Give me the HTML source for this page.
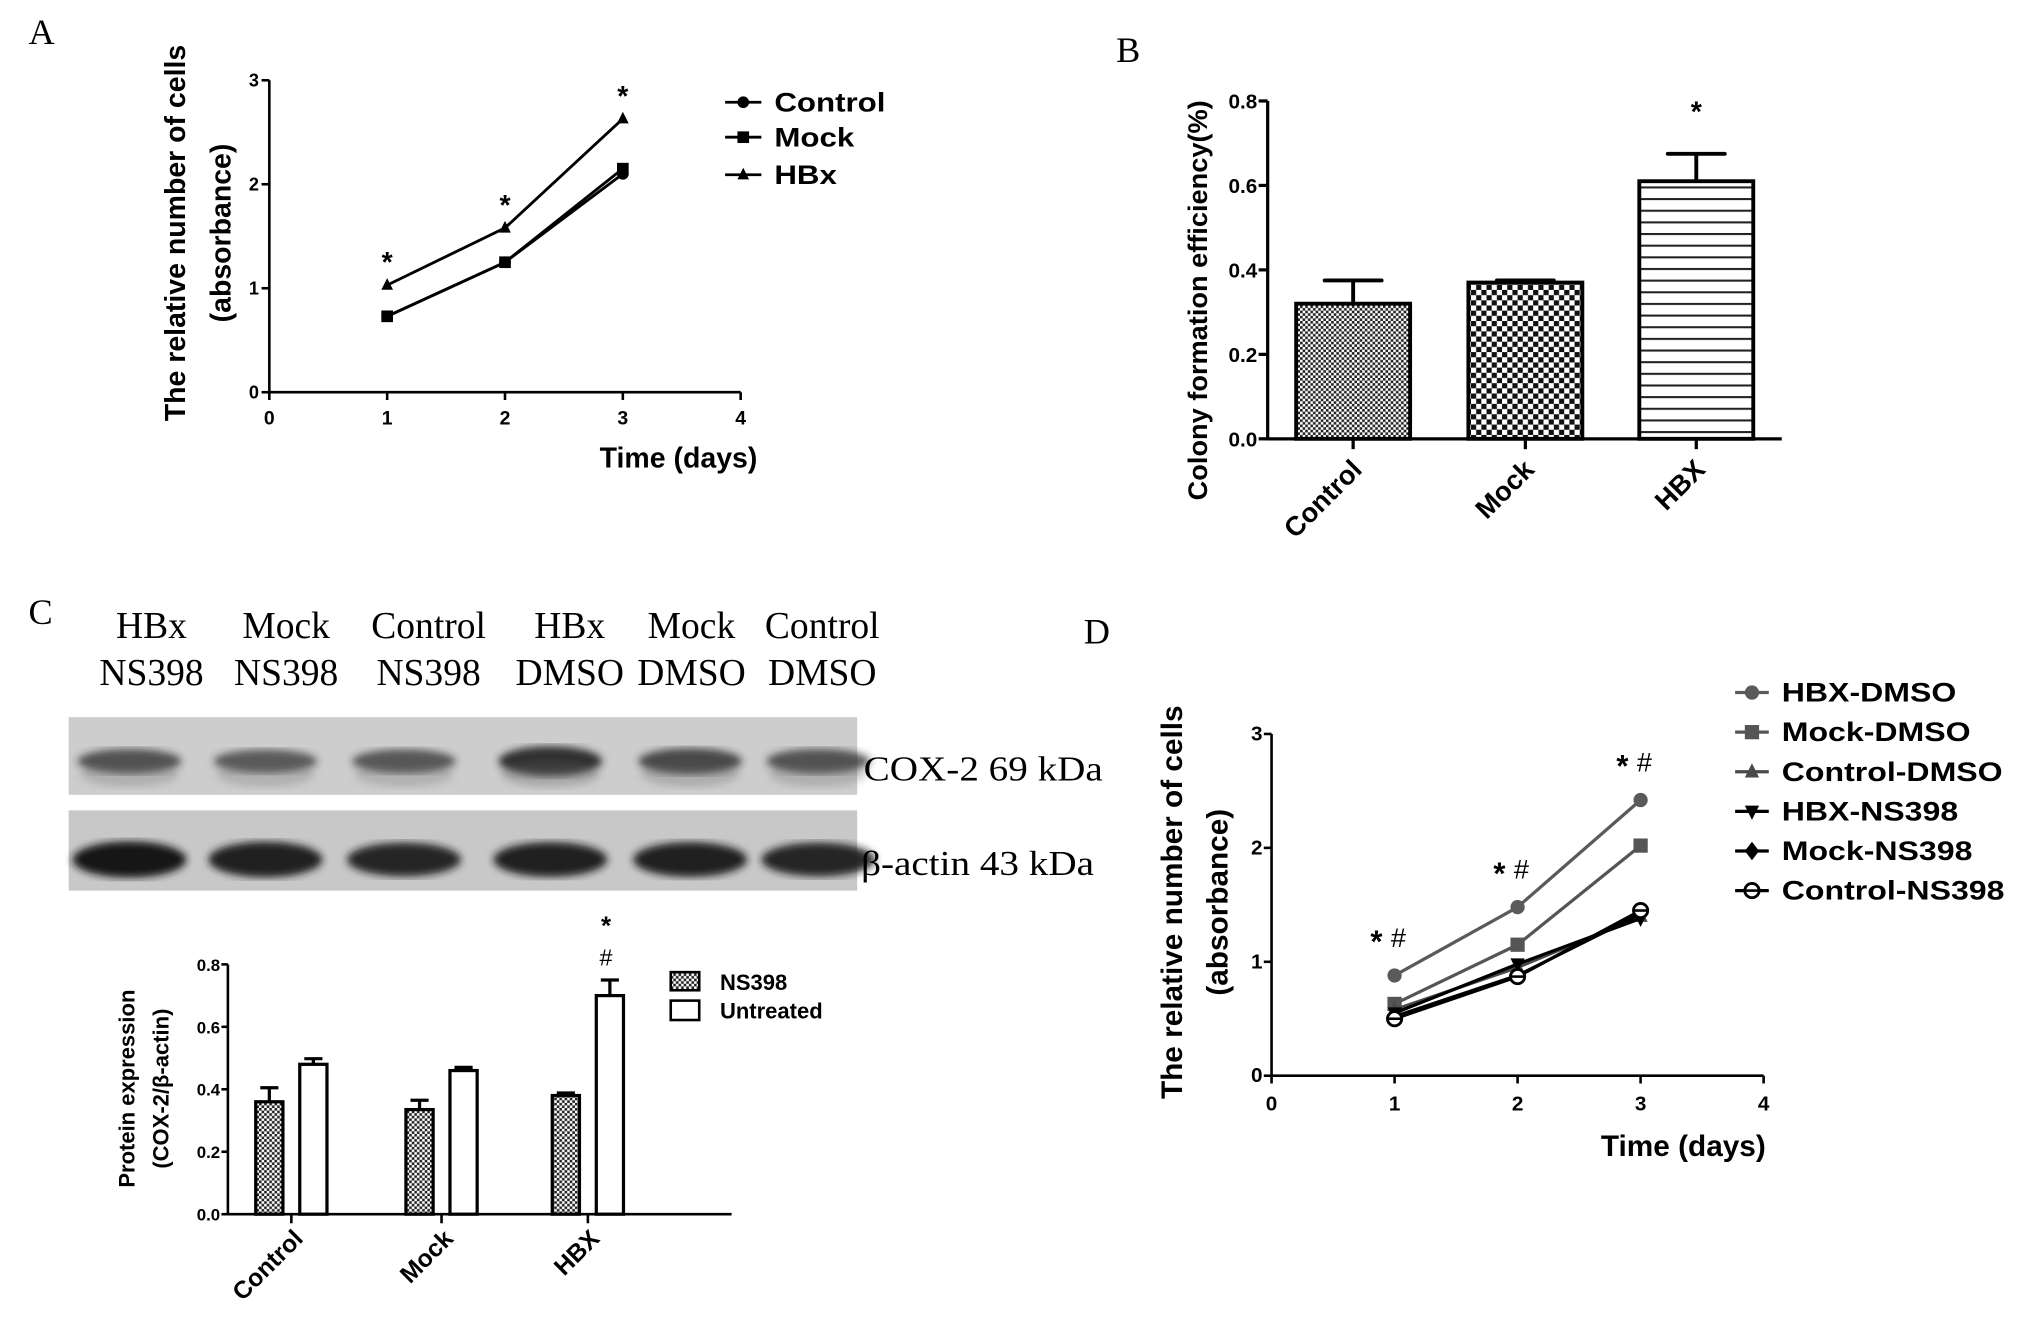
<!DOCTYPE html>
<html><head><meta charset="utf-8"><style>
html,body{margin:0;padding:0;background:#fff;}
svg{display:block;}
text{font-family:"Liberation Sans",sans-serif;}
.b{font-weight:bold;}
.serif{font-family:"Liberation Serif",serif;}
</style></head><body>
<svg id="fig" xmlns="http://www.w3.org/2000/svg" width="2020" height="1332" viewBox="0 0 1560 1029" preserveAspectRatio="none">
<defs>
<pattern id="fine" width="4" height="4" patternUnits="userSpaceOnUse"><rect width="4" height="4" fill="#fff"/><rect width="2" height="2" fill="#222"/><rect x="2" y="2" width="2" height="2" fill="#222"/></pattern>
<pattern id="coarse" width="8" height="8" patternUnits="userSpaceOnUse"><rect width="8" height="8" fill="#fff"/><rect width="4" height="4" fill="#111"/><rect x="4" y="4" width="4" height="4" fill="#111"/></pattern>
<pattern id="hlines" width="8" height="9" patternUnits="userSpaceOnUse"><rect width="8" height="9" fill="#fff"/><rect y="0" width="8" height="1.6" fill="#222"/></pattern>
<filter id="blur"><feGaussianBlur stdDeviation="3"/></filter>
</defs>
<text x="22" y="34" class="serif" font-size="28">A</text>
<text x="862" y="48" class="serif" font-size="28">B</text>
<text x="22" y="482" class="serif" font-size="28">C</text>
<text x="837" y="497" class="serif" font-size="28">D</text>
<g id="gA"></g>
<g id="gB"></g>
<g id="gC"></g>
<g id="gC2"></g>
<g id="gD"></g>
</svg>
<script>
// ---- data ----
const daysA = [1, 2, 3];
const aControl = [0.73, 1.25, 2.10];
const aMock = [0.73, 1.25, 2.15];
const aHBx = [1.03, 1.58, 2.63];
const aTicksX = [0, 1, 2, 3, 4];
const aTicksY = [0, 1, 2, 3];

const bCats = ["Control", "Mock", "HBX"];
const bVals = [0.32, 0.37, 0.61];
const bErr = [0.055, 0.005, 0.065];
const bTicks = ["0.0", "0.2", "0.4", "0.6", "0.8"];

const blotLanes1 = ["HBx", "Mock", "Control", "HBx", "Mock", "Control"];
const blotLanes2 = ["NS398", "NS398", "NS398", "DMSO", "DMSO", "DMSO"];
const coxIntensity = [0.75, 0.7, 0.72, 0.95, 0.8, 0.75];
const actinIntensity = [1.0, 0.98, 0.92, 0.95, 0.95, 0.92];

const cCats = ["Control", "Mock", "HBX"];
const cNS398 = [0.36, 0.335, 0.38];
const cNS398Err = [0.045, 0.03, 0.008];
const cUntreated = [0.48, 0.46, 0.70];
const cUntreatedErr = [0.018, 0.01, 0.05];
const cTicks = ["0.0", "0.2", "0.4", "0.6", "0.8"];

const daysD = [1, 2, 3];
const dHbxDmso = [0.88, 1.48, 2.42];
const dMockDmso = [0.63, 1.15, 2.02];
const dCtrlDmso = [0.58, 0.95, 1.40];
const dHbxNs = [0.55, 0.98, 1.38];
const dMockNs = [0.52, 0.88, 1.42];
const dCtrlNs = [0.50, 0.87, 1.45];
const dNames = ["HBX-DMSO", "Mock-DMSO", "Control-DMSO", "HBX-NS398", "Mock-NS398", "Control-NS398"];

const NS = "http://www.w3.org/2000/svg";
function mk(parent, tag, attrs, txt) {
  const e = document.createElementNS(NS, tag);
  for (const k in attrs) e.setAttribute(k, attrs[k]);
  if (txt !== undefined) e.textContent = txt;
  parent.appendChild(e);
  return e;
}
function stretch(e, f) {
  const w = e.getComputedTextLength();
  if (w > 0) { e.setAttribute("textLength", w * f); e.setAttribute("lengthAdjust", "spacingAndGlyphs"); }
}
function marker(g, shape, x, y, color, r) {
  let e;
  if (shape === "circle") e = mk(g, "circle", {cx: x, cy: y, r: r, fill: color});
  else if (shape === "ocircle") { e = mk(g, "circle", {cx: x, cy: y, r: r, fill: "#fff", stroke: color, "stroke-width": 2.2}); mk(g,"line",{x1:x-r,y1:y,x2:x+r,y2:y,stroke:color,"stroke-width":2}); }
  else if (shape === "square") e = mk(g, "rect", {x: x - r, y: y - r, width: 2 * r, height: 2 * r, fill: color});
  else if (shape === "tri") e = mk(g, "polygon", {points: `${x},${y - r * 1.2} ${x - r},${y + r * 0.8} ${x + r},${y + r * 0.8}`, fill: color});
  else if (shape === "dtri") e = mk(g, "polygon", {points: `${x},${y + r * 1.2} ${x - r},${y - r * 0.8} ${x + r},${y - r * 0.8}`, fill: color});
  else if (shape === "diamond") e = mk(g, "polygon", {points: `${x},${y - r * 1.3} ${x + r},${y} ${x},${y + r * 1.3} ${x - r},${y}`, fill: color});
  return e;
}

// ---- Panel A ----
(function () {
  const g = document.getElementById("gA");
  const x0 = 208, xs = (572 - 208) / 4, y0 = 303, ys = (303 - 62) / 3;
  const X = v => x0 + v * xs, Y = v => y0 - v * ys;
  let e = mk(g, "path", {d: `M${X(0)},${Y(3)} L${X(0)},${Y(0)} L${X(4)},${Y(0)}`, fill: "none", stroke: "#000", "stroke-width": 2});
  
  
  aTicksY.forEach(t => {
    mk(g, "line", {x1: X(0) - 6, y1: Y(t), x2: X(0), y2: Y(t), stroke: "#000", "stroke-width": 2});
    e = mk(g, "text", {x: X(0) - 8, y: Y(t) + 5, "text-anchor": "end", "font-size": 14, class: "b"}, t);
    
    
  });
  aTicksX.forEach(t => {
    mk(g, "line", {x1: X(t), y1: Y(0), x2: X(t), y2: Y(0) + 6, stroke: "#000", "stroke-width": 2});
    e = mk(g, "text", {x: X(t), y: Y(0) + 25, "text-anchor": "middle", "font-size": 15, class: "b"}, t);
    
    
  });
  const series = [[aControl, "circle"], [aMock, "square"], [aHBx, "tri"]];
  const names = ["Control", "Mock", "HBx"];
  series.forEach(([vals, sh], i) => {
    const sg = mk(g, "g", {});
    
    
    mk(sg, "polyline", {points: daysA.map((d, j) => `${X(d)},${Y(vals[j])}`).join(" "), fill: "none", stroke: "#000", "stroke-width": 2.2});
    daysA.forEach((d, j) => marker(sg, sh, X(d), Y(vals[j]), "#000", 4.5));
    const ly = [79, 106, 135][i];
    mk(g, "line", {x1: 560, y1: ly, x2: 588, y2: ly, stroke: "#000", "stroke-width": 2.2});
    marker(g, sh, 574, ly, "#000", 4.5);
    e = mk(g, "text", {x: 598, y: ly + 7, "font-size": 21, class: "b"}, names[i]);
    
    
    stretch(e, 1.15);
  });
  daysA.forEach((d, j) => {
    e = mk(g, "text", {x: X(d), y: Y(aHBx[j]) - 10, "text-anchor": "middle", "font-size": 22, class: "b"}, "*");
    
    
  });
  e = mk(g, "text", {transform: "translate(143,180) rotate(-90)", "text-anchor": "middle", "font-size": 22, class: "b"}, "The relative number of cells");
  
  
  e = mk(g, "text", {transform: "translate(178,180) rotate(-90)", "text-anchor": "middle", "font-size": 22, class: "b"}, "(absorbance)");
  
  
  e = mk(g, "text", {x: 524, y: 361, "text-anchor": "middle", "font-size": 22, class: "b"}, "Time (days)");
  
  
})();

// ---- Panel B ----
(function () {
  const g = document.getElementById("gB");
  const ax = 979, y0 = 339, ys = (339 - 78) / 0.8, xEnd = 1376;
  const Y = v => y0 - v * ys;
  const centers = [1045, 1178, 1310], bw = 88;
  const fills = ["url(#fine)", "url(#coarse)", "url(#hlines)"];
  bCats.forEach((c, i) => {
    let e = mk(g, "rect", {x: centers[i] - bw / 2, y: Y(bVals[i]), width: bw, height: y0 - Y(bVals[i]), fill: fills[i], stroke: "#000", "stroke-width": 3});
    
    
    mk(g, "line", {x1: centers[i], y1: Y(bVals[i]), x2: centers[i], y2: Y(bVals[i] + bErr[i]), stroke: "#000", "stroke-width": 3});
    mk(g, "line", {x1: centers[i] - 22, y1: Y(bVals[i] + bErr[i]), x2: centers[i] + 22, y2: Y(bVals[i] + bErr[i]), stroke: "#000", "stroke-width": 3, "stroke-linecap": "round"});
    mk(g, "line", {x1: centers[i], y1: y0, x2: centers[i], y2: y0 + 8, stroke: "#000", "stroke-width": 2.5});
    e = mk(g, "text", {transform: `translate(${centers[i] + 8},${y0 + 25}) rotate(-45)`, "text-anchor": "end", "font-size": 21, class: "b"}, c);
    
    
  });
  mk(g, "path", {d: `M${ax},${Y(0.8)} L${ax},${y0} L${xEnd},${y0}`, fill: "none", stroke: "#000", "stroke-width": 2.5});
  bTicks.forEach((t, i) => {
    const v = i * 0.2;
    mk(g, "line", {x1: ax - 7, y1: Y(v), x2: ax, y2: Y(v), stroke: "#000", "stroke-width": 2.5});
    let e = mk(g, "text", {x: ax - 8, y: Y(v) + 6, "text-anchor": "end", "font-size": 16, class: "b"}, t);
    
    
  });
  let e = mk(g, "text", {x: centers[2], y: Y(0.8) + 16, "text-anchor": "middle", "font-size": 22, class: "b"}, "*");
  
  
  e = mk(g, "text", {transform: "translate(932,232) rotate(-90)", "text-anchor": "middle", "font-size": 21, class: "b"}, "Colony formation efficiency(%)");
  
  
})();

// ---- Panel C blot ----
(function () {
  const g = document.getElementById("gC");
  const cols = [117, 221, 331, 440, 534, 635];
  blotLanes1.forEach((l, i) => {
    let e = mk(g, "text", {x: cols[i], y: 493, "text-anchor": "middle", "font-size": 29, class: "serif"}, l);
    
    
    e = mk(g, "text", {x: cols[i], y: 529, "text-anchor": "middle", "font-size": 29, class: "serif"}, blotLanes2[i]);
    
    
  });
  let e = mk(g, "rect", {x: 53, y: 554, width: 609, height: 60, fill: "#cdcdcd"});
  
  
  e = mk(g, "rect", {x: 53, y: 626, width: 609, height: 62, fill: "#c8c8c8"});
  
  
  const bands = [100, 205, 312, 425, 533, 632];
  bands.forEach((x, i) => {
    const a = coxIntensity[i];
    mk(g, "ellipse", {cx: x, cy: 588, rx: 40, ry: 10 * a + 2, fill: `rgba(40,40,40,${a})`, filter: "url(#blur)"});
    mk(g, "ellipse", {cx: x, cy: 598, rx: 38, ry: 10, fill: `rgba(90,90,90,${a * 0.35})`, filter: "url(#blur)"});
    const b = actinIntensity[i];
    mk(g, "ellipse", {cx: x, cy: 664, rx: 44, ry: 12 * b + 2, fill: `rgba(25,25,25,${b})`, filter: "url(#blur)"});
  });
  e = mk(g, "text", {x: 667, y: 603, "font-size": 27, class: "serif"}, "COX-2  69 kDa");
  
  
  stretch(e, 1.12);
  e = mk(g, "text", {x: 665, y: 676, "font-size": 27, class: "serif"}, "β-actin  43 kDa");
  
  
  stretch(e, 1.12);
})();

// ---- Panel C chart ----
(function () {
  const g = document.getElementById("gC2");
  const ax = 176, y0 = 938, ys = (938 - 745) / 0.8, xEnd = 565;
  const Y = v => y0 - v * ys;
  const groupC = [225, 341, 454], bw = 21;
  cCats.forEach((c, i) => {
    const xa = groupC[i] - 17, xb = groupC[i] + 17;
    [[xa, cNS398[i], cNS398Err[i], "url(#fine)", "ns398"], [xb, cUntreated[i], cUntreatedErr[i], "#fff", "untreated"]].forEach(([x, v, er, f, n]) => {
      let e = mk(g, "rect", {x: x - bw / 2, y: Y(v), width: bw, height: y0 - Y(v), fill: f, stroke: "#000", "stroke-width": 2.5});
      
      
      mk(g, "line", {x1: x, y1: Y(v), x2: x, y2: Y(v + er), stroke: "#000", "stroke-width": 2.5});
      mk(g, "line", {x1: x - 7, y1: Y(v + er), x2: x + 7, y2: Y(v + er), stroke: "#000", "stroke-width": 2.5});
    });
    mk(g, "line", {x1: groupC[i], y1: y0, x2: groupC[i], y2: y0 + 7, stroke: "#000", "stroke-width": 2});
    let e = mk(g, "text", {transform: `translate(${groupC[i] + 10},${y0 + 20}) rotate(-45)`, "text-anchor": "end", "font-size": 19, class: "b"}, c);
    
    
  });
  mk(g, "path", {d: `M${ax},${Y(0.8)} L${ax},${y0} L${xEnd},${y0}`, fill: "none", stroke: "#000", "stroke-width": 2});
  cTicks.forEach((t, i) => {
    const v = i * 0.2;
    mk(g, "line", {x1: ax - 5, y1: Y(v), x2: ax, y2: Y(v), stroke: "#000", "stroke-width": 2});
    let e = mk(g, "text", {x: ax - 6, y: Y(v) + 5, "text-anchor": "end", "font-size": 13, class: "b"}, t);
    
    
  });
  let e = mk(g, "text", {x: 468, y: 722, "text-anchor": "middle", "font-size": 20, class: "b"}, "*");
  
  
  e = mk(g, "text", {x: 468, y: 746, "text-anchor": "middle", "font-size": 18}, "#");
  
  
  mk(g, "rect", {x: 518, y: 751, width: 22, height: 14, fill: "url(#fine)", stroke: "#000", "stroke-width": 2});
  e = mk(g, "text", {x: 556, y: 765, "font-size": 17, class: "b"}, "NS398");
  
  
  mk(g, "rect", {x: 518, y: 773, width: 22, height: 15, fill: "#fff", stroke: "#000", "stroke-width": 2});
  e = mk(g, "text", {x: 556, y: 787, "font-size": 17, class: "b"}, "Untreated");
  
  
  e = mk(g, "text", {transform: "translate(104,841) rotate(-90)", "text-anchor": "middle", "font-size": 17, class: "b"}, "Protein expression");
  
  
  e = mk(g, "text", {transform: "translate(130,841) rotate(-90)", "text-anchor": "middle", "font-size": 17, class: "b"}, "(COX-2/β-actin)");
  
  
})();

// ---- Panel D ----
(function () {
  const g = document.getElementById("gD");
  const x0 = 982, xs = (1362 - 982) / 4, y0 = 831, ys = (831 - 567) / 3;
  const X = v => x0 + v * xs, Y = v => y0 - v * ys;
  mk(g, "path", {d: `M${X(0)},${Y(3)} L${X(0)},${Y(0)} L${X(4)},${Y(0)}`, fill: "none", stroke: "#000", "stroke-width": 2});
  [0, 1, 2, 3].forEach(t => {
    mk(g, "line", {x1: X(0) - 6, y1: Y(t), x2: X(0), y2: Y(t), stroke: "#000", "stroke-width": 2});
    let e = mk(g, "text", {x: X(0) - 7, y: Y(t) + 5, "text-anchor": "end", "font-size": 16, class: "b"}, t);
    
    
  });
  [0, 1, 2, 3, 4].forEach(t => {
    mk(g, "line", {x1: X(t), y1: Y(0), x2: X(t), y2: Y(0) + 6, stroke: "#000", "stroke-width": 2});
    let e = mk(g, "text", {x: X(t), y: Y(0) + 27, "text-anchor": "middle", "font-size": 16, class: "b"}, t);
    
    
  });
  const series = [
    [dHbxDmso, "circle", "#5a5a5a"], [dMockDmso, "square", "#555"], [dCtrlDmso, "tri", "#4a4a4a"],
    [dHbxNs, "dtri", "#000"], [dMockNs, "diamond", "#000"], [dCtrlNs, "ocircle", "#000"]];
  series.forEach(([vals, sh, col], i) => {
    const sg = mk(g, "g", {});
    
    
    mk(sg, "polyline", {points: daysD.map((d, j) => `${X(d)},${Y(vals[j])}`).join(" "), fill: "none", stroke: col, "stroke-width": 2.5});
    daysD.forEach((d, j) => marker(sg, sh, X(d), Y(vals[j]), col, 5.5));
    const ly = 535 + i * 30.6;
    mk(g, "line", {x1: 1340, y1: ly, x2: 1366, y2: ly, stroke: col, "stroke-width": 2.5});
    marker(g, sh, 1353, ly, col, 5.5);
    let e = mk(g, "text", {x: 1376, y: ly + 7, "font-size": 21, class: "b"}, dNames[i]);
    
    
    stretch(e, 1.18);
  });
  daysD.forEach((d, j) => {
    let e = mk(g, "text", {x: X(d) - 14, y: Y(dHbxDmso[j]) - 18, "text-anchor": "middle", "font-size": 24, class: "b"}, "*");
    
    
    e = mk(g, "text", {x: X(d) + 3, y: Y(dHbxDmso[j]) - 22, "text-anchor": "middle", "font-size": 21}, "#");
    
    
  });
  let e = mk(g, "text", {transform: "translate(913,697) rotate(-90)", "text-anchor": "middle", "font-size": 23, class: "b"}, "The relative number of cells");
  
  
  e = mk(g, "text", {transform: "translate(948,697) rotate(-90)", "text-anchor": "middle", "font-size": 23, class: "b"}, "(absorbance)");
  
  
  e = mk(g, "text", {x: 1300, y: 893, "text-anchor": "middle", "font-size": 23, class: "b"}, "Time (days)");
  
  
})();
</script>
</body></html>
